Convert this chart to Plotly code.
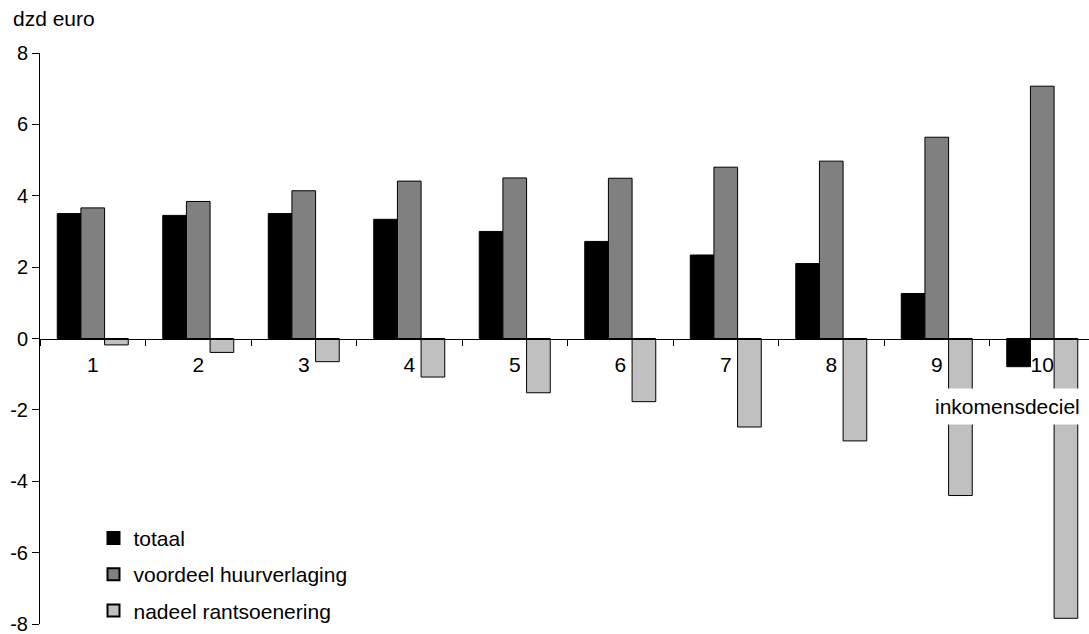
import plotly.graph_objects as go

# Inkomensdecielen en effecten (dzd euro)
decielen = ["1", "2", "3", "4", "5", "6", "7", "8", "9", "10"]
totaal = [3.50, 3.45, 3.50, 3.34, 3.00, 2.72, 2.34, 2.10, 1.26, -0.79]
voordeel_huurverlaging = [3.66, 3.84, 4.14, 4.41, 4.50, 4.49, 4.80, 4.97, 5.64, 7.07]
nadeel_rantsoenering = [-0.18, -0.39, -0.65, -1.08, -1.52, -1.77, -2.48, -2.87, -4.40, -7.84]

y_ticks = [-8, -6, -4, -2, 0, 2, 4, 6, 8]
y_ticktext = [str(v) for v in y_ticks]

FONT = "Liberation Sans, Arial, Helvetica, sans-serif"
FS = 21

series = [
    ("totaal", totaal, "#000000"),
    ("voordeel huurverlaging", voordeel_huurverlaging, "#808080"),
    ("nadeel rantsoenering", nadeel_rantsoenering, "#c0c0c0"),
]

fig = go.Figure()
for i, (name, vals, color) in enumerate(series):
    fig.add_trace(go.Bar(
        x=decielen, y=vals, name=name,
        marker=dict(color=color, line=dict(color="#000000", width=1)),
        legendgroup=f"g{i}",
    ))

fig.update_layout(
    width=1089, height=634,
    margin=dict(l=40, r=0, t=53, b=10, autoexpand=False),
    paper_bgcolor="white", plot_bgcolor="white",
    font=dict(family=FONT, size=FS, color="#000000"),
    barmode="group", bargap=0.327, bargroupgap=0,
    showlegend=True,
    legend=dict(
        x=0.051, y=0.186, xanchor="left", yanchor="top",
        bgcolor="rgba(0,0,0,0)", font=dict(size=FS),
        tracegroupgap=6, itemsizing="constant",
    ),
    xaxis=dict(
        type="category", range=[-0.5, 9.443],
        anchor="free", position=0.5,
        showline=True, linecolor="#000000", linewidth=1,
        ticks="outside", ticklen=6, tickcolor="#000000", tickson="boundaries",
        ticklabelstandoff=7, automargin=False,
        showgrid=False, zeroline=False,
        tickfont=dict(size=FS),
    ),
    yaxis=dict(
        range=[-8, 8],
        tickmode="array", tickvals=y_ticks, ticktext=y_ticktext,
        showline=True, linecolor="#000000", linewidth=1,
        ticks="outside", ticklen=7, tickcolor="#000000",
        ticklabeloverflow="allow", automargin=False,
        showgrid=False, zeroline=False,
        tickfont=dict(size=20),
    ),
    annotations=[
        dict(text="dzd euro", xref="paper", yref="paper",
             x=-0.028, y=1.061, xanchor="left", yanchor="middle",
             showarrow=False, font=dict(size=FS)),
        dict(text="inkomensdeciel", xref="x", yref="y",
             x=8.67, y=-1.9, xanchor="center", yanchor="middle",
             showarrow=False, bgcolor="white", borderpad=6,
             font=dict(size=FS)),
    ],
)

fig.write_html("out.html")
